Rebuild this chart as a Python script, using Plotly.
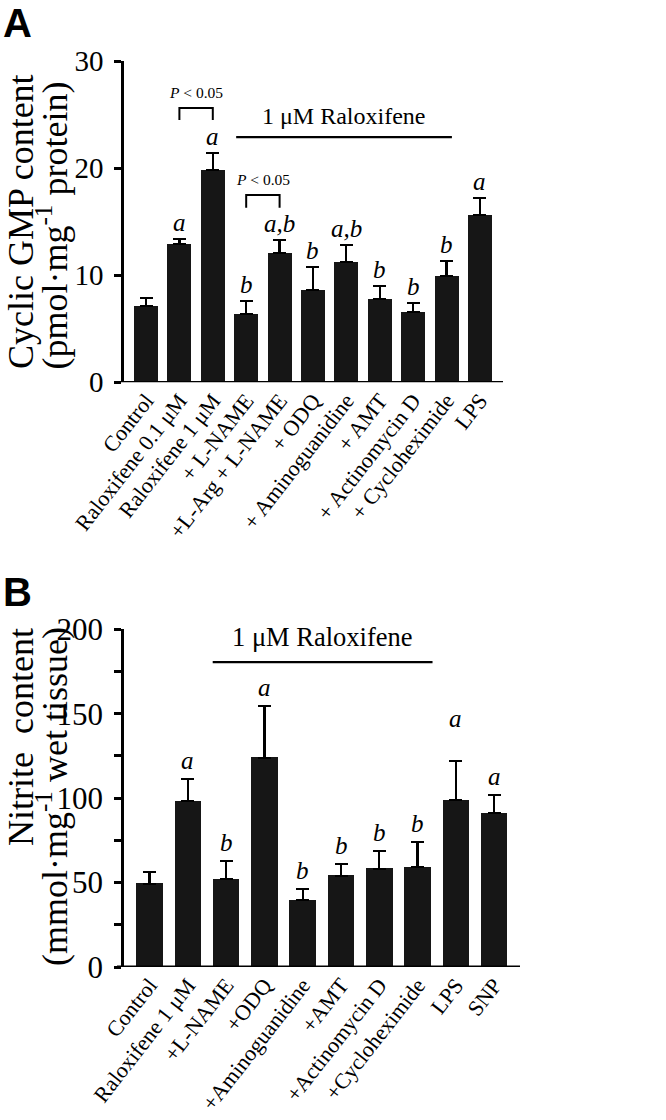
import plotly.graph_objects as go

# ---------------- data ----------------
cats_a = ["Control", "Raloxifene 0.1 μM", "Raloxifene 1 μM", "+ L-NAME", "+L-Arg + L-NAME",
          "+ ODQ", "+ Aminoguanidine", "+ AMT", "+ Actinomycin D", "+ Cycloheximide", "LPS"]
cgmp = [7.1, 12.9, 19.8, 6.35, 12.1, 8.6, 11.2, 7.8, 6.6, 9.9, 15.6]
cgmp_sem = [0.8, 0.5, 1.6, 1.25, 1.2, 2.2, 1.6, 1.2, 0.8, 1.4, 1.6]
letters_a = ["", "a", "a", "b", "a,b", "b", "a,b", "b", "b", "b", "a"]

cats_b = ["Control", "Raloxifene 1 μM", "+L-NAME", "+ODQ", "+Aminoguanidine", "+AMT",
          "+Actinomycin D", "+Cycloheximide", "LPS", "SNP"]
nitrite = [49.3, 98.3, 51.9, 124.0, 39.7, 54.1, 58.2, 59.2, 98.9, 91.0]
nitrite_sem = [7.0, 13.0, 11.1, 30.8, 6.7, 7.1, 10.5, 15.0, 23.1, 10.7]
letters_b = ["", "a", "b", "a", "b", "b", "b", "b", "a", "a"]

yticks_a = [0, 10, 20, 30]
yticks_b = [0, 50, 100, 150, 200]

# ---------------- layout helpers ----------------
W, H = 666, 1120
def px(x):
    return x / W
def py(y):
    return 1 - y / H

SERIF = "Liberation Serif"
SANS = "Liberation Sans"
BAR = "#161616"

fig = go.Figure()

fig.add_trace(go.Bar(
    x=list(range(len(cats_a))), y=cgmp, width=0.72,
    marker=dict(color=BAR, line=dict(width=0)),
    error_y=dict(type="data", symmetric=False, array=cgmp_sem,
                 arrayminus=[0] * len(cgmp), color="black", thickness=2.2, width=6.5),
    xaxis="x", yaxis="y", showlegend=False))

fig.add_trace(go.Bar(
    x=list(range(len(cats_b))), y=nitrite, width=0.69,
    marker=dict(color=BAR, line=dict(width=0)),
    error_y=dict(type="data", symmetric=False, array=nitrite_sem,
                 arrayminus=[0] * len(nitrite), color="black", thickness=2.2, width=6.5),
    xaxis="x2", yaxis="y2", showlegend=False))

axis_common = dict(showgrid=False, zeroline=False, color="black", automargin=False)

fig.update_layout(
    template="none",
    width=W, height=H, margin=dict(l=0, r=0, t=0, b=0, autoexpand=False),
    paper_bgcolor="white", plot_bgcolor="white", bargap=0,
    font=dict(family=SERIF, color="black"),
    xaxis=dict(domain=[px(124), px(503)], range=[-0.659, 10.69], anchor="y",
               tickmode="array", tickvals=list(range(len(cats_a))), ticktext=cats_a,
               tickangle=-52, ticks="", showline=False,
               tickfont=dict(family=SERIF, size=22), **axis_common),
    yaxis=dict(domain=[py(382.3), py(61)], range=[0, 30], anchor="x",
               tickmode="array", tickvals=yticks_a, ticks="outside", ticklen=7, tickwidth=2.5,
               showline=True, linewidth=2.5, linecolor="black", ticklabelstandoff=5,
               tickfont=dict(family=SERIF, size=29), **axis_common),
    xaxis2=dict(domain=[px(124), px(520)], range=[-0.666, 9.674], anchor="y2",
                tickmode="array", tickvals=list(range(len(cats_b))), ticktext=cats_b,
                tickangle=-52, ticks="", showline=False,
                tickfont=dict(family=SERIF, size=22), **axis_common),
    yaxis2=dict(domain=[py(967), py(629.3)], range=[0, 200], anchor="x2",
                tickmode="array", tickvals=yticks_b, ticks="outside", ticklen=7, tickwidth=2.5,
                minor=dict(ticks="outside", ticklen=7, tickwidth=2.5, dtick=25, tick0=0,
                           tickcolor="black"),
                showline=True, linewidth=2.5, linecolor="black", ticklabelstandoff=5,
                tickfont=dict(family=SERIF, size=31), **axis_common),
)

shapes = []
annotations = []

# baselines (x axis lines extending under the y tick)
shapes.append(dict(type="line", xref="paper", yref="y", x0=px(117), x1=px(503), y0=0, y1=0,
                   line=dict(color="black", width=2.8)))
shapes.append(dict(type="line", xref="paper", yref="y2", x0=px(117), x1=px(520), y0=0, y1=0,
                   line=dict(color="black", width=2.8)))

# significance letters
for i, (v, e, t) in enumerate(zip(cgmp, cgmp_sem, letters_a)):
    if t:
        annotations.append(dict(x=i, y=v + e, xref="x", yref="y", text=t, showarrow=False,
                                yanchor="bottom", yshift=1,
                                font=dict(family=SERIF, size=25, style="italic")))
for i, (v, e, t) in enumerate(zip(nitrite, nitrite_sem, letters_b)):
    if t:
        extra = 24 if cats_b[i] == "LPS" else 0
        annotations.append(dict(x=i, y=v + e, xref="x2", yref="y2", text=t, showarrow=False,
                                yanchor="bottom", yshift=3 + extra,
                                font=dict(family=SERIF, size=25, style="italic")))

# "1 μM Raloxifene" bars
shapes.append(dict(type="line", xref="x", yref="y", x0=2.7, x1=9.16, y0=22.9, y1=22.9,
                   line=dict(color="black", width=2.2)))
annotations.append(dict(x=(2.7 + 9.16) / 2, y=22.9, xref="x", yref="y", text="1 μM Raloxifene",
                        showarrow=False, yanchor="bottom", yshift=6,
                        font=dict(family=SERIF, size=24)))
shapes.append(dict(type="line", xref="x2", yref="y2", x0=1.65, x1=7.39, y0=180.6, y1=180.6,
                   line=dict(color="black", width=2.2)))
annotations.append(dict(x=(1.65 + 7.39) / 2, y=180.6, xref="x2", yref="y2", text="1 μM Raloxifene",
                        showarrow=False, yanchor="bottom", yshift=8,
                        font=dict(family=SERIF, size=26.5)))

# P < 0.05 brackets
for (i0, i1, ytop, yleg) in [(1, 2, 25.6, 24.5), (3, 4, 17.5, 16.3)]:
    shapes.append(dict(type="path", xref="x", yref="y",
                       path=f"M {i0},{yleg} L {i0},{ytop} L {i1},{ytop} L {i1},{yleg}",
                       line=dict(color="black", width=2)))
    annotations.append(dict(x=(i0 + i1) / 2, y=ytop, xref="x", yref="y",
                            text="<i>P</i> < 0.05", showarrow=False, yanchor="bottom", yshift=5,
                            font=dict(family=SERIF, size=15.5)))

# axis titles
annotations += [
    dict(x=0, y=py(222), xref="paper", yref="paper", text="Cyclic GMP content",
         textangle=-90, showarrow=False, xanchor="left", yanchor="middle", borderpad=0,
         font=dict(family=SERIF, size=36)),
    dict(x=px(29), y=py(226), xref="paper", yref="paper", text="(pmol·mg<sup>-1</sup> protein)",
         textangle=-90, showarrow=False, xanchor="left", yanchor="middle", borderpad=0,
         font=dict(family=SERIF, size=36)),
    dict(x=0, y=py(627), xref="paper", yref="paper", text="Nitrite\u2002content",
         textangle=-90, showarrow=False, xanchor="left", yanchor="top", borderpad=0,
         font=dict(family=SERIF, size=36)),
    dict(x=px(29), y=py(626), xref="paper", yref="paper", text="(mmol·mg<sup>-1</sup> wet tissue)",
         textangle=-90, showarrow=False, xanchor="left", yanchor="top", borderpad=0,
         font=dict(family=SERIF, size=36)),
    dict(x=px(2), y=py(0), xref="paper", yref="paper", text="<b>A</b>", showarrow=False,
         xanchor="left", yanchor="top", borderpad=0, font=dict(family=SANS, size=40)),
    dict(x=px(2), y=py(569), xref="paper", yref="paper", text="<b>B</b>", showarrow=False,
         xanchor="left", yanchor="top", borderpad=0, font=dict(family=SANS, size=40)),
]

fig.update_layout(shapes=shapes, annotations=annotations)
fig.write_html("out.html", config={"displayModeBar": False},
               post_script="document.body.style.margin='0px';")
